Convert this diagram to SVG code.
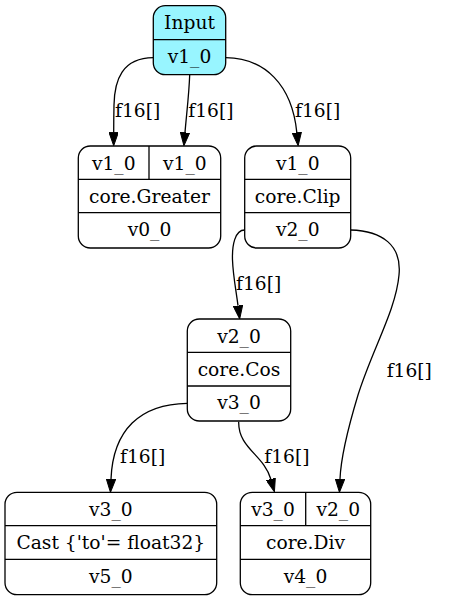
<svg xmlns="http://www.w3.org/2000/svg" width="468" height="601" viewBox="0 0 468 601">
  <style>
    .box { fill: #ffffff; stroke: #000000; stroke-width: 1.3; }
    .input { fill: #98f5ff; }
    .sep { stroke: #000000; stroke-width: 1.3; fill: none; }
    .lbl { font-family: "DejaVu Serif", "Liberation Serif", serif; font-size: 18.67px; fill: #000000; text-anchor: middle; }
    .edge { fill: none; stroke: #000000; stroke-width: 1.3; }
    .elbl { font-family: "DejaVu Serif", "Liberation Serif", serif; font-size: 18.67px; fill: #000000; text-anchor: start; }
  </style>
  <defs>
    <marker id="arrow" viewBox="0 0 13.3 9.4" refX="0" refY="4.7" markerWidth="13.3" markerHeight="9.4" markerUnits="userSpaceOnUse" orient="auto">
      <path d="M0,0 L13.3,4.7 L0,9.4 Z" fill="#000000" stroke="#000000" stroke-width="1"/>
    </marker>
  </defs>
  <rect width="468" height="601" fill="#ffffff"/>

  <!-- connectors -->
  <g id="edges">
    <path class="edge" marker-end="url(#arrow)" d="M153.3,57.7 C122,58 114.5,80 114,105 C113.8,115 113.7,124 113.7,132.4"/>
    <text class="elbl" x="115" y="116.7">f16[]</text>
    <path class="edge" marker-end="url(#arrow)" d="M189.7,74.7 C189,95 186.5,114 185,132.4"/>
    <text class="elbl" x="188.3" y="116.7">f16[]</text>
    <path class="edge" marker-end="url(#arrow)" d="M225.7,57.7 C265,58 292,85 296.8,132.4"/>
    <text class="elbl" x="295" y="116.7">f16[]</text>
    <path class="edge" marker-end="url(#arrow)" d="M244.7,230 C235,230 232,245 232.5,260 C233,275 236,290 238,305.7"/>
    <text class="elbl" x="236" y="290">f16[]</text>
    <path class="edge" marker-end="url(#arrow)" d="M350.7,230 C382,231 402,245 399,275 C396,310 372,350 358,395 C348,428 341,455 340,479"/>
    <text class="elbl" x="386.7" y="376.7">f16[]</text>
    <path class="edge" marker-end="url(#arrow)" d="M187.3,403.3 C140,404 113,430 111,479"/>
    <text class="elbl" x="120" y="463.3">f16[]</text>
    <path class="edge" marker-end="url(#arrow)" d="M238.7,421.7 C238,448 264,455 270.8,479"/>
    <text class="elbl" x="264.3" y="463.3">f16[]</text>
  </g>

  <!-- Input node -->
  <g id="input">
    <rect class="box input" x="153.3" y="5.7" width="72.4" height="69" rx="12" ry="12"/>
    <line class="sep" x1="153.3" y1="39.7" x2="225.7" y2="39.7"/>
    <text class="lbl" x="189.5" y="29.3">Input</text>
    <text class="lbl" x="189.5" y="63.3">v1_0</text>
  </g>

  <!-- core.Greater -->
  <g id="greater">
    <rect class="box" x="78.3" y="146" width="142.4" height="102" rx="12" ry="12"/>
    <line class="sep" x1="78.3" y1="179.3" x2="220.7" y2="179.3"/>
    <line class="sep" x1="78.3" y1="212.7" x2="220.7" y2="212.7"/>
    <line class="sep" x1="149" y1="146" x2="149" y2="179.3"/>
    <text class="lbl" x="113.7" y="169.5">v1_0</text>
    <text class="lbl" x="184.8" y="169.5">v1_0</text>
    <text class="lbl" x="149.5" y="202.8">core.Greater</text>
    <text class="lbl" x="149.5" y="236.2">v0_0</text>
  </g>

  <!-- core.Clip -->
  <g id="clip">
    <rect class="box" x="244.7" y="146" width="106" height="102" rx="12" ry="12"/>
    <line class="sep" x1="244.7" y1="179.3" x2="350.7" y2="179.3"/>
    <line class="sep" x1="244.7" y1="212.7" x2="350.7" y2="212.7"/>
    <text class="lbl" x="297.7" y="169.5">v1_0</text>
    <text class="lbl" x="297.7" y="202.8">core.Clip</text>
    <text class="lbl" x="297.7" y="236.2">v2_0</text>
  </g>

  <!-- core.Cos -->
  <g id="cos">
    <rect class="box" x="187.3" y="319" width="103.4" height="102" rx="12" ry="12"/>
    <line class="sep" x1="187.3" y1="352.3" x2="290.7" y2="352.3"/>
    <line class="sep" x1="187.3" y1="386" x2="290.7" y2="386"/>
    <text class="lbl" x="239" y="342.5">v2_0</text>
    <text class="lbl" x="239" y="375.8">core.Cos</text>
    <text class="lbl" x="239" y="409.3">v3_0</text>
  </g>

  <!-- Cast -->
  <g id="cast">
    <rect class="box" x="5" y="492.3" width="211.7" height="102.4" rx="12" ry="12"/>
    <line class="sep" x1="5" y1="525.7" x2="216.7" y2="525.7"/>
    <line class="sep" x1="5" y1="559.3" x2="216.7" y2="559.3"/>
    <text class="lbl" x="110.8" y="515.8">v3_0</text>
    <text class="lbl" x="110.8" y="549.2">Cast {'to'= float32}</text>
    <text class="lbl" x="110.8" y="582.8">v5_0</text>
  </g>

  <!-- core.Div -->
  <g id="div">
    <rect class="box" x="240.3" y="492.3" width="130.4" height="102.4" rx="12" ry="12"/>
    <line class="sep" x1="240.3" y1="525.7" x2="370.7" y2="525.7"/>
    <line class="sep" x1="240.3" y1="559.3" x2="370.7" y2="559.3"/>
    <line class="sep" x1="305.7" y1="492.3" x2="305.7" y2="525.7"/>
    <text class="lbl" x="273" y="515.8">v3_0</text>
    <text class="lbl" x="338.2" y="515.8">v2_0</text>
    <text class="lbl" x="305.5" y="549.2">core.Div</text>
    <text class="lbl" x="305.5" y="582.8">v4_0</text>
  </g>
</svg>
